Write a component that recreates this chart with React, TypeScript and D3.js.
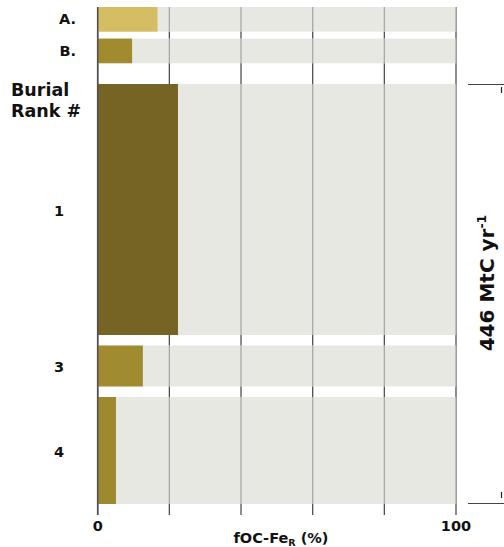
import React from "react";
import * as d3 from "d3";

// Fraction of organic carbon bound to reactive iron, per category
const rowLabels = ["A.", "B.", "1", "3", "4"];
const rowValues = [16.7, 9.6, 22.4, 12.6, 5.1];
const rowColors = ["#d4bd63", "#a08b2f", "#766424", "#a08b2f", "#9e8a2e"];
// Relative heights of the burial-rank bars (scaled to burial flux)
const rankWeights = [251, 41, 107];
const xTicks = [0, 20, 40, 60, 80, 100];
const xTickLabels = ["0", "", "", "", "", "100"];

const W = 504;
const H = 547;
const FONT = "'DejaVu Sans', Verdana, sans-serif";

export default function App() {
  const x = d3.scaleLinear().domain([0, 100]).range([97.7, 456]);

  // top group: two thin bars
  const topBand = d3
    .scaleBand<string>()
    .domain(rowLabels.slice(0, 2))
    .range([7, 60 + 3.25])
    .paddingInner(0.22)
    .paddingOuter(0);

  // lower group: burial-rank bars, heights proportional to weights
  const rankTop = 84;
  const rankBottom = 504;
  const gap = 10.5;
  const usable = rankBottom - rankTop - gap * (rankWeights.length - 1);
  const h = d3
    .scaleLinear()
    .domain([0, d3.sum(rankWeights)])
    .range([0, usable]);
  let cursor = rankTop;
  const rankRows = rankWeights.map((w) => {
    const y0 = cursor;
    const y1 = cursor + h(w);
    cursor = y1 + gap;
    return { y0, y1 };
  });

  const rows = rowLabels.map((label, i) => {
    if (i < 2) {
      const y0 = topBand(label)!;
      return { label, value: rowValues[i], color: rowColors[i], y0, y1: y0 + topBand.bandwidth() };
    }
    const r = rankRows[i - 2];
    return { label, value: rowValues[i], color: rowColors[i], ...r };
  });

  const gridTop = 7;
  const gridBottom = 515;

  return (
    <svg
      width={W}
      height={H}
      style={{ position: "absolute", left: 0, top: 0, background: "#fff" }}
      fontFamily={FONT}
    >
      {/* dark grid lines (visible in gaps) */}
      {xTicks.map((t) => (
        <line
          key={"g" + t}
          x1={x(t)}
          x2={x(t)}
          y1={gridTop}
          y2={gridBottom}
          stroke="#505050"
          strokeWidth={1.3}
        />
      ))}

      {/* background tracks */}
      {rows.map((r) => (
        <rect
          key={"bg" + r.label}
          x={x(0)}
          y={r.y0}
          width={x(100) - x(0)}
          height={r.y1 - r.y0}
          fill="#e8e8e3"
        />
      ))}

      {/* light grid lines across the tracks */}
      {rows.map((r) =>
        xTicks.map((t) => (
          <line
            key={"lg" + r.label + t}
            x1={x(t)}
            x2={x(t)}
            y1={r.y0}
            y2={r.y1}
            stroke="#a8a8a8"
            strokeWidth={1.3}
          />
        ))
      )}

      {/* value bars */}
      {rows.map((r) => (
        <rect
          key={"bar" + r.label}
          x={x(0)}
          y={r.y0}
          width={x(r.value) - x(0)}
          height={r.y1 - r.y0}
          fill={r.color}
        />
      ))}

      {/* zero axis line */}
      <line x1={x(0)} x2={x(0)} y1={gridTop} y2={gridBottom} stroke="#505050" strokeWidth={1.6} />

      {/* row labels */}
      {rows.slice(0, 2).map((r) => (
        <text
          key={"lab" + r.label}
          x={76}
          y={(r.y0 + r.y1) / 2 + 5}
          textAnchor="end"
          fontSize={14.5}
          fontWeight="bold"
          fill="#111"
        >
          {r.label}
        </text>
      ))}
      {rows.slice(2).map((r) => (
        <text
          key={"lab" + r.label}
          x={59}
          y={(r.y0 + r.y1) / 2 + 6}
          textAnchor="middle"
          fontSize={14.5}
          fontWeight="bold"
          fill="#111"
        >
          {r.label}
        </text>
      ))}
      <text x={11} y={96} fontSize={17.5} fontWeight="bold" fill="#111">
        Burial
      </text>
      <text x={11} y={117} fontSize={17.5} fontWeight="bold" fill="#111">
        Rank #
      </text>

      {/* tick labels */}
      {xTicks.map((t, i) =>
        xTickLabels[i] ? (
          <text
            key={"tl" + t}
            x={x(t)}
            y={530.5}
            textAnchor="middle"
            fontSize={14.5}
            fontWeight="bold"
            fill="#111"
          >
            {xTickLabels[i]}
          </text>
        ) : null
      )}

      {/* axis title */}
      <text x={281} y={543} textAnchor="middle" fontSize={14.5} fontWeight="bold" fill="#111">
        fOC-Fe
        <tspan fontSize={9.5} dy={3}>R</tspan>
        <tspan dy={-3}> (%)</tspan>
      </text>

      {/* flux bracket on the right */}
      <line x1={468} x2={504} y1={rankTop + 0.5} y2={rankTop + 0.5} stroke="#444" strokeWidth={1.2} />
      <line x1={468} x2={504} y1={rankBottom - 0.5} y2={rankBottom - 0.5} stroke="#444" strokeWidth={1.2} />
      <line x1={501.5} x2={501.5} y1={rankTop + 3} y2={rankTop + 9} stroke="#222" strokeWidth={1.2} />
      <line x1={501.5} x2={501.5} y1={rankBottom - 12} y2={rankBottom - 6} stroke="#222" strokeWidth={1.2} />

      <text
        transform={`translate(494, ${(rankTop + rankBottom) / 2 - 11}) rotate(-90)`}
        textAnchor="middle"
        fontSize={20}
        fontWeight="bold"
        fill="#111"
      >
        446 MtC yr
        <tspan fontSize={12.5} dy={-8}>-1</tspan>
      </text>
    </svg>
  );
}
